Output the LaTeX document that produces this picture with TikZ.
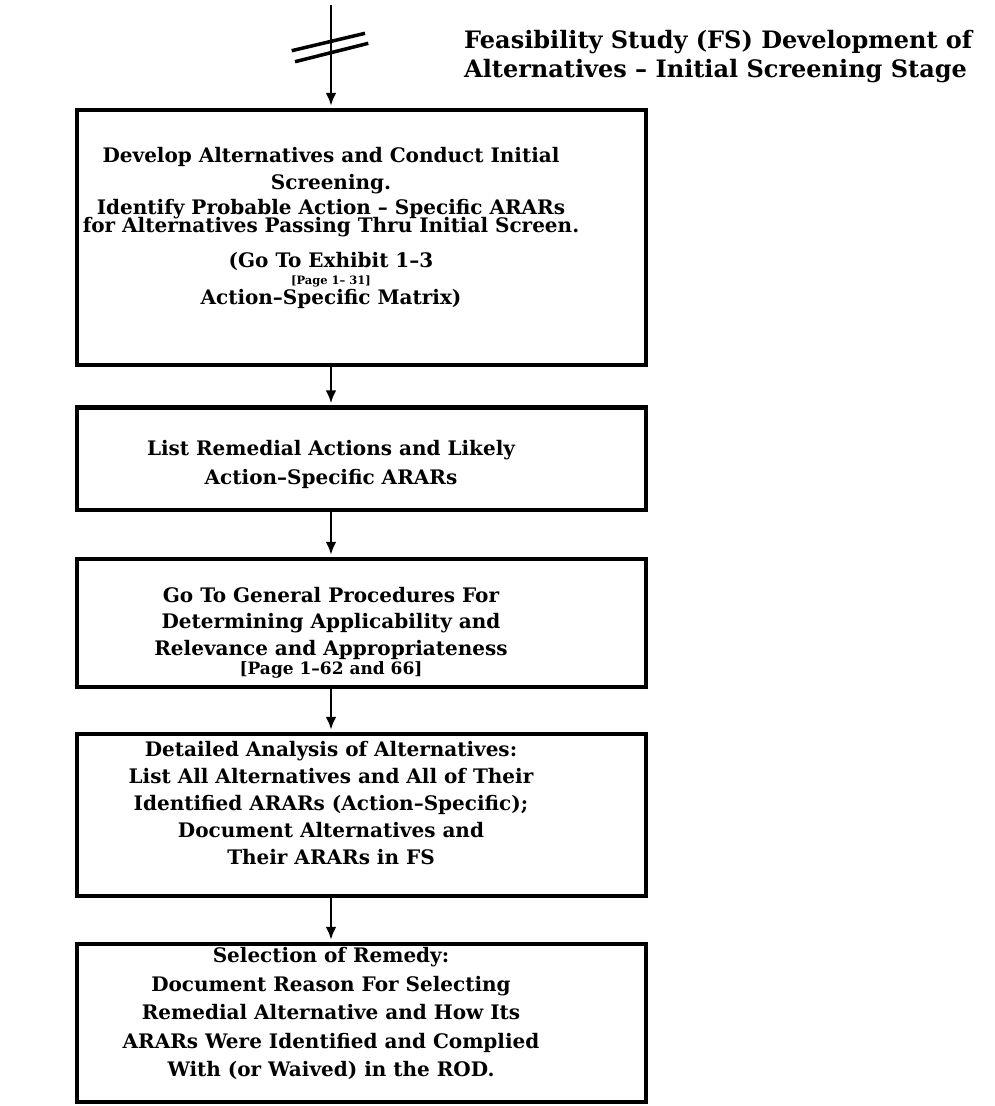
\documentclass[tikz,border=0pt]{standalone}
\usepackage{fontspec}
\setmainfont{DejaVu Serif}
\usetikzlibrary{arrows.meta}

\tikzset{
  stagebox/.style={draw, line width=4.5pt, minimum width=569pt, inner sep=0pt},
  stagetext/.style={align=center, inner sep=0pt, font=\bfseries\fontsize{20}{28}\selectfont},
  flow/.style={line width=2.5pt, -{Latex[length=13pt,width=11pt]}, shorten >=2pt}
}

\begin{document}
\begin{tikzpicture}[x=1pt,y=-1pt]
\useasboundingbox (0,0) rectangle (994,1106);

% axis of the flow
\coordinate (entry) at (331,5);

%Shape: boxes
\node[stagebox, minimum height=255pt] (develop) at (361.5,237.5) {};
\node[stagebox, minimum height=102.5pt] (list) at (361.5,458.75) {};
\node[stagebox, minimum height=128pt] (general) at (361.5,623) {};
\node[stagebox, minimum height=162pt] (detailed) at (361.5,815) {};
\node[stagebox, minimum height=158pt] (select) at (361.5,1023) {};

% Text Node
\node[stagetext] (developtxt) at (331,227.8) {Develop Alternatives and Conduct Initial\\[-1pt]
Screening.\\[-3pt]
Identify Probable Action -- Specific ARARs\\[-10pt]
for Alternatives Passing Thru Initial Screen.\\[7pt]
(Go To Exhibit 1--3\\[-11pt]
{\fontsize{11.5}{14}\selectfont [Page 1-- 31]}\\[-8pt]
Action--Specific Matrix)};
% Text Node
\node[stagetext] (listtxt) at (331,464.3) {List Remedial Actions and Likely\\[1pt]
Action--Specific ARARs};
% Text Node
\node[stagetext] (generaltxt) at (331,632.5) {Go To General Procedures For\\[-1.5pt]
Determining Applicability and\\[-1.5pt]
Relevance and Appropriateness\\[-9pt]
{\fontsize{17}{20}\selectfont [Page 1--62 and 66]}};
% Text Node
\node[stagetext] (detailedtxt) at (331,803) {Detailed Analysis of Alternatives:\\[-1pt]
List All Alternatives and All of Their\\[-1pt]
Identified ARARs (Action--Specific);\\[-1pt]
Document Alternatives and\\[-1pt]
Their ARARs in FS};
% Text Node
\node[stagetext, font=\bfseries\fontsize{20}{28.5}\selectfont] (selecttxt) at (331,1013.5) {Selection of Remedy:\\
Document Reason For Selecting\\
Remedial Alternative and How Its\\
ARARs Were Identified and Complied\\
With (or Waived) in the ROD.};

% Text Node
\node[anchor=west, align=left, inner sep=0pt, font=\bfseries\fontsize{24}{29}\selectfont] (title) at (464,57) {Feasibility Study (FS) Development of\\
Alternatives -- Initial Screening Stage};

%Straight Lines
\draw[flow] (entry) -- (develop.north -| entry);
\draw[flow] (develop.south -| entry) -- (list.north -| entry);
\draw[flow] (list.south -| entry) -- (general.north -| entry);
\draw[flow] (general.south -| entry) -- (detailed.north -| entry);
\draw[flow] (detailed.south -| entry) -- (select.north -| entry);

%Shape: break mark
\draw[line width=3.5pt] (291.7,50.7) -- (365,33.3);
\draw[line width=3.5pt] (295,61.7) -- (368.3,43.3);

\end{tikzpicture}
\end{document}
